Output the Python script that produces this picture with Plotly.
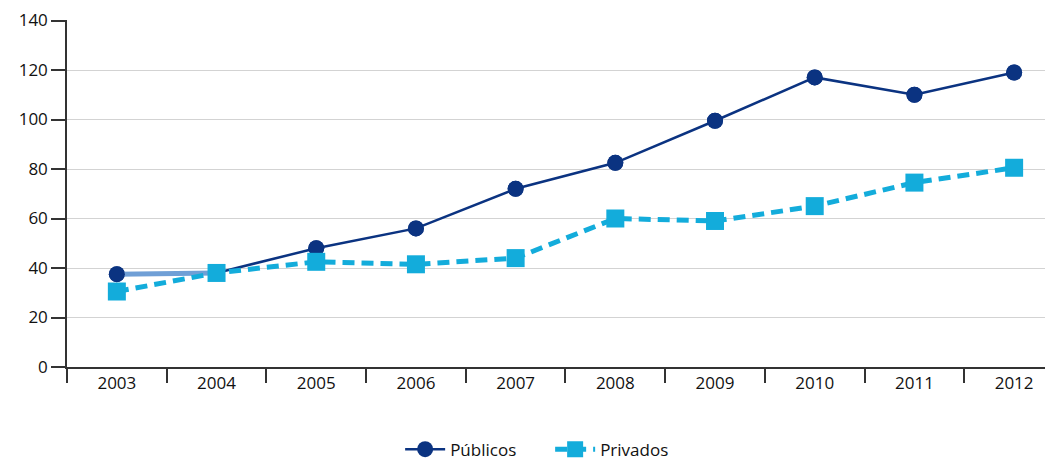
import plotly.graph_objects as go

years = ["2003", "2004", "2005", "2006", "2007", "2008", "2009", "2010", "2011", "2012"]
publicos = [37.5, 38.0, 48.0, 56.0, 72.0, 82.5, 99.5, 117.0, 110.0, 119.0]
privados = [30.5, 38.0, 42.5, 41.5, 44.0, 60.0, 59.0, 65.0, 74.5, 80.5]
y_ticks = [0, 20, 40, 60, 80, 100, 120, 140]

navy = "#0b3381"
cyan = "#13acdb"
font = "Open Sans"

fig = go.Figure()
fig.add_trace(go.Scatter(
    x=years, y=publicos, name="Públicos", mode="lines+markers",
    line=dict(color=navy, width=2.5),
    marker=dict(symbol="circle", size=16, color=navy),
))
# light first segment as in the original
fig.add_trace(go.Scatter(
    x=years[:2], y=publicos[:2], mode="lines", showlegend=False, hoverinfo="skip",
    line=dict(color="#6f9fd6", width=5),
))
fig.add_trace(go.Scatter(
    x=years, y=publicos, mode="markers", showlegend=False,
    marker=dict(symbol="circle", size=16, color=navy),
))
fig.add_trace(go.Scatter(
    x=years, y=privados, name="Privados", mode="lines+markers",
    line=dict(color=cyan, width=5, dash="12px,7px"),
    marker=dict(symbol="square", size=18, color=cyan),
))

fig.update_layout(
    width=1045, height=461,
    margin=dict(l=59, r=0, t=12, b=102, autoexpand=False),
    paper_bgcolor="white", plot_bgcolor="white",
    font=dict(family=font, size=17, color="#111111"),
    showlegend=True,
    legend=dict(orientation="h", x=0.49, xanchor="center", y=-0.238, yanchor="middle",
                font=dict(size=17), itemwidth=40, tracegroupgap=0,
                entrywidth=95, entrywidthmode="pixels"),
    xaxis=dict(
        type="category", range=[-0.5, 9.39], automargin=False,
        showline=True, linecolor="#333333", linewidth=1.5,
        ticks="outside", tickson="boundaries", ticklen=14, tickcolor="#333333", tickwidth=1.5,
        showgrid=False, fixedrange=True,
    ),
    yaxis=dict(
        range=[0, 140.2], tickvals=y_ticks, automargin=False, ticklabeloverflow="allow",
        showline=True, linecolor="#333333", linewidth=1.5,
        ticks="outside", ticklen=14, tickcolor="#333333", tickwidth=1.5,
        gridcolor="#d3d3d3", gridwidth=1.2, zeroline=False, fixedrange=True,
    ),
)

fig.write_html("out.html")
